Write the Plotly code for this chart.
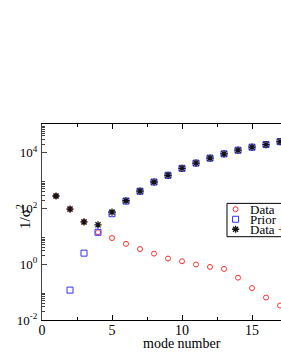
import plotly.graph_objects as go

# ---- data ----
mode_data = [1, 2, 3, 4, 5, 6, 7, 8, 9, 10, 11, 12, 13, 14, 15, 16, 17]
data_vals = [280, 95, 33, 14, 8.7, 5.4, 3.5, 2.4, 1.6, 1.28, 0.98, 0.8, 0.68, 0.33, 0.14, 0.064, 0.033]

mode_prior = [2, 3, 4, 5, 6, 7, 8, 9, 10, 11, 12, 13, 14, 15, 16, 17]
prior_vals = [0.118, 2.5, 14, 65, 184, 415, 890, 1550, 2750, 4250, 6400, 9100, 12300, 15800, 19600, 25000]

mode_both = [1, 2, 3, 4, 5, 6, 7, 8, 9, 10, 11, 12, 13, 14, 15, 16, 17]
both_vals = [280, 95, 33, 26, 74, 189, 419, 892, 1552, 2751, 4251, 6401, 9101, 12300, 15800, 19600, 25000]

legend_names = ["Data", "Prior", "Data + Prior"]
ytick_vals = [1e-2, 1e0, 1e2, 1e4]
ytick_text = ["10<sup>-2</sup>", "10<sup>0</sup>", "10<sup>2</sup>", "10<sup>4</sup>"]
yminor_vals = [k * 10.0 ** n for n in (-2, 0, 2, 4) for k in range(2, 10)]

SERIF = "Liberation Serif, Times New Roman, serif"
RED = "#ff3030"
BLUE = "#3030ff"

st_data = dict(symbol="circle-open", size=5, color=RED, line=dict(width=1))
st_prior = dict(symbol="square-open", size=6, color=BLUE, line=dict(width=1))
st_both = dict(symbol="asterisk-open", size=6, color="#111111", line=dict(width=1.3))

fig = go.Figure()
fig.add_trace(go.Scatter(x=mode_data, y=data_vals, mode="markers", name=legend_names[0],
                         marker=st_data, showlegend=False))
fig.add_trace(go.Scatter(x=mode_prior, y=prior_vals, mode="markers", name=legend_names[1],
                         marker=st_prior, showlegend=False))
fig.add_trace(go.Scatter(x=mode_both, y=both_vals, mode="markers", name=legend_names[2],
                         marker=st_both, showlegend=False))

# manual legend (compact rows like the original)
leg_x_sym = 0.81
leg_x_txt = 0.862
leg_rows = [0.565, 0.514, 0.463]
for name, yy, st in zip(legend_names, leg_rows, [st_data, st_prior, st_both]):
    fig.add_trace(go.Scatter(x=[leg_x_sym], y=[yy], mode="markers", marker=st,
                             xaxis="x2", yaxis="y2", showlegend=False, hoverinfo="skip",
                             cliponaxis=False))
    fig.add_annotation(x=leg_x_txt, y=yy, xref="paper", yref="paper", text=name,
                       showarrow=False, xanchor="left", yanchor="middle",
                       font=dict(family=SERIF, size=13, color="black"))
fig.add_shape(type="rect", xref="paper", yref="paper", x0=0.774, x1=1.1, y0=0.425, y1=0.595,
              line=dict(color="black", width=1), fillcolor="rgba(0,0,0,0)")

fig.update_layout(
    width=281, height=363,
    margin=dict(l=42, r=0, t=124, b=43, autoexpand=False),
    paper_bgcolor="white", plot_bgcolor="white",
    showlegend=False,
    font=dict(family=SERIF, size=13, color="black"),
    xaxis=dict(range=[0, 17.07], showline=True, linecolor="black", linewidth=1,
               mirror="ticks", ticks="inside", ticklen=5, tickcolor="black",
               tickvals=[0, 5, 10, 15], showgrid=False, zeroline=False, automargin=False,
               minor=dict(tickvals=[2.5, 7.5, 12.5, 17.5], ticklen=3, ticks="inside", tickcolor="black"),
               tickfont=dict(family=SERIF, size=14), ticklabelstandoff=-3),
    yaxis=dict(type="log", range=[-2, 5.03], showline=True, linecolor="#444444", linewidth=1,
               ticks="inside", ticklen=5, tickcolor="#444444", automargin=False,
               tickvals=ytick_vals, ticktext=ytick_text, showgrid=False, zeroline=False,
               minor=dict(tickvals=yminor_vals, ticklen=3, ticks="inside", tickcolor="#444444"),
               tickfont=dict(family=SERIF, size=13), ticklabelstandoff=1),
    xaxis2=dict(overlaying="x", range=[0, 1], visible=False, automargin=False),
    yaxis2=dict(overlaying="y", range=[0, 1], visible=False, automargin=False),
)

fig.add_annotation(x=10, y=-0.072, xref="x", yref="paper", text="mode number", showarrow=False,
                   yanchor="top", font=dict(family=SERIF, size=14))
fig.add_annotation(x=-0.125, y=0.526, xref="paper", yref="paper", text="1/σ<sup>2</sup>",
                   showarrow=False, textangle=-90, font=dict(family=SERIF, size=15))

fig.write_html("out.html", config={"displayModeBar": False},
               post_script="document.body.style.margin='0px';document.body.style.overflow='hidden';")
